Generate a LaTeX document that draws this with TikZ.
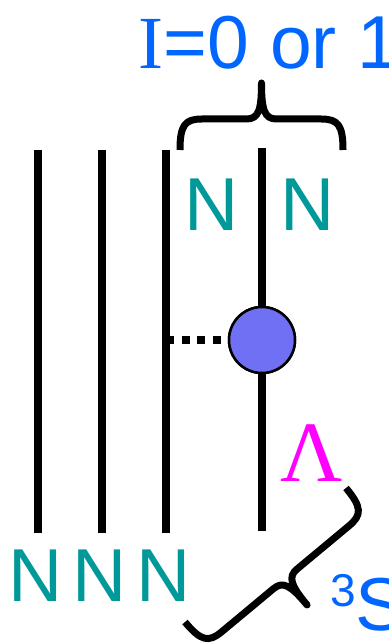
\documentclass[tikz,border=0pt]{standalone}
\usepackage{fontspec}
\setmainfont{Liberation Sans}
\newfontfamily\seriffont{Liberation Serif}
\definecolor{iblue}{RGB}{0,102,255}
\definecolor{nteal}{RGB}{0,153,153}
\definecolor{lmag}{RGB}{255,0,255}
\definecolor{blobfill}{RGB}{112,112,245}
\newcommand{\mybrace}[2]{%
  \draw[bracestyle] (0,0) .. controls (0,25) and (5,31) .. (22,31)
    -- ({#1/2-15},31) .. controls ({#1/2-3},31) and ({#1/2},40) .. ({#1/2},#2)
    .. controls ({#1/2},40) and ({#1/2+3},31) .. ({#1/2+15},31)
    -- ({#1-22},31) .. controls ({#1-5},31) and (#1,25) .. (#1,0);}
\tikzset{
  strand/.style={line width=7.7pt, black},
  bracestyle/.style={line width=7pt, black, line join=round},
  dotline/.style={line width=8pt, black, dash pattern=on 8pt off 7.7pt},
  ntext/.style={text=nteal, inner sep=0pt, anchor=base, font=\fontsize{75}{75}\selectfont},
}
\begin{document}
\begin{tikzpicture}[x=1pt,y=-1pt]
\useasboundingbox (0,0) rectangle (388,644);
% strands
\coordinate (a1) at (38,150); \coordinate (a2) at (38,533);
\coordinate (b1) at (102,150); \coordinate (b2) at (102,533);
\coordinate (c1) at (166,150); \coordinate (c2) at (166,533);
\coordinate (d1) at (262,148); \coordinate (d2) at (262,531);
\coordinate (cmid) at (166,340);
\draw[strand] (a1) -- (a2);
\draw[strand] (b1) -- (b2);
\draw[strand] (c1) -- (c2);
\draw[strand] (d1) -- (d2);
\node[circle, minimum size=66pt, inner sep=0pt, fill=blobfill, draw=black, line width=2.5pt] (blob) at (262,340) {};
\draw[dotline] (cmid) -- (blob.west);
\node[circle, minimum size=66pt, inner sep=0pt, fill=blobfill, draw=black, line width=2.5pt] at (blob) {};
% labels
\node[ntext] (tn1) at (212,230) {N};
\node[ntext] (tn2) at (308,230) {N};
\node[ntext] (bn1) at (36,601) {N};
\node[ntext] (bn2) at (100,601) {N};
\node[ntext] (bn3) at (164,601) {N};
\node[anchor=base west, inner sep=0pt, text=iblue, font=\fontsize{75}{75}\selectfont] (ilabel) at (138.6,69) {{\seriffont I}=0 or 1};
\node[anchor=base, inner sep=0pt, text=lmag, font=\seriffont\fontsize{86}{86}\selectfont] (lam) at (312,481) {Λ};
\node[anchor=base west, inner sep=0pt, text=iblue, font=\fontsize{75}{75}\selectfont] (spin) at (330,630) {\raisebox{24pt}{\fontsize{46}{46}\selectfont 3}S};
% braces
\begin{scope}[shift={(180pt,-150pt)}, x={(1pt,0pt)}, y={(0pt,1pt)}]
  \mybrace{163}{67}
\end{scope}
\begin{scope}[shift={(346pt,-488pt)}, x={(-0.7686pt,-0.6397pt)}, y={(0.6397pt,-0.7686pt)}]
  \mybrace{209.5}{65}
\end{scope}
\end{tikzpicture}
\end{document}
